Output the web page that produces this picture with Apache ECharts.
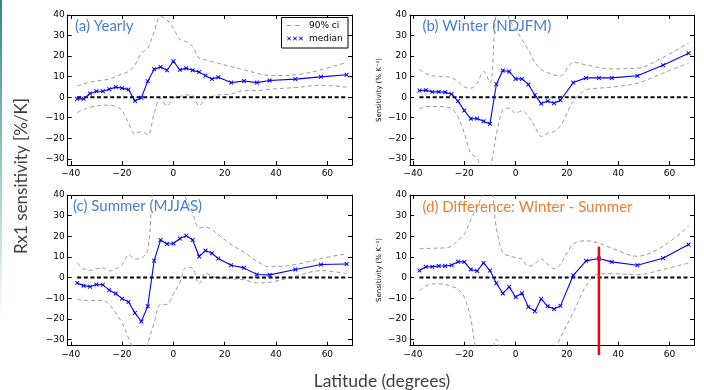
<!DOCTYPE html>
<html><head><meta charset="utf-8">
<script src="https://cdn.jsdelivr.net/npm/echarts@6/dist/echarts.min.js"></script>
<style>html,body{margin:0;padding:0;background:#fff}#c{width:704px;height:390px}</style>
</head><body><div id="c"></div>
<script>
const lat = [-37.5,-35,-32.5,-30,-27.5,-25,-22.5,-20,-17.5,-15,-12.5,-10,-7.5,-5,-2.5,0,2.5,5,7.5,10,12.5,15,17.5,22.5,27.5,32.5,37.5,47.5,57.5,67.5];

const yearlyMedian = [-0.8,-0.8,1.8,2.9,2.9,3.9,4.9,4.4,3.7,-1.8,-0.3,7.8,13.6,14.7,13.1,17.5,13.3,14.1,13.1,12.2,10.5,8.9,9.7,7.1,7.9,7.1,8.1,8.8,9.9,10.9];
const yearlyUpper  = [5.5,6.5,7.3,7.9,8.3,8.8,10,11.3,12.5,15.7,21.4,23.8,32,39.2,37.6,33.5,28.2,27,24.6,19,18.2,17.3,16.5,14.9,13.3,11.7,10.5,10.9,13.3,17];
const yearlyLower  = [-7.5,-6,-4.9,-4.3,-3.9,-3.9,-4.5,-6.5,-12.6,-17.8,-16.7,-18.3,-7.8,-0.5,-4.2,-0.5,0.3,1.1,0.8,-4.2,-0.5,0.3,1.1,1.5,3.2,3.2,3.9,4.7,5.8,4.9];

const winterMedian = [3.2,3.4,2.6,2.6,2.4,1.5,-1.9,-6.5,-10.5,-10.4,-11.7,-13,6.3,13,12.5,8.9,8.9,6.2,1.1,-3.1,-1.9,-2.9,-1.5,7.1,9.4,9.4,9.4,10.4,15.6,21.4];
const winterUpper  = [13.6,11.5,10.4,10.2,10,9.5,7.6,5,4.4,6.8,12.5,7,42,48,38,33,28,23,17,13.5,12,10.8,10.4,17,15.7,14.4,13.8,14.1,19.4,26.3];
const winterLower  = [-5.8,-4.5,-4.5,-4.5,-4.8,-5.5,-9.4,-17.5,-27.2,-29.7,-36,-34,-18,-6.2,-5.3,-7.8,-6.6,-9.4,-14.3,-19.1,-17.5,-16.7,-13.9,-2.1,3.6,4.4,4.9,6.8,11.7,16.5];

const summerMedian = [-2.6,-3.9,-4.4,-3.4,-3.5,-6.1,-7.7,-10.2,-11.8,-17.1,-21.3,-13.9,8.2,18.2,16.3,16.5,18.9,20.3,18.2,10.2,13.1,11.8,9.2,6,4.7,1.5,1.3,3.9,6.3,6.6];
const summerUpper  = [7.1,4.2,3.5,4.2,4.7,3.2,4.2,6.3,11,9,9.5,13,48,50,50,48,44,38,31.3,24,24.4,23.2,20.8,16,12.3,7.9,5.2,6.3,9.2,11.6];
const summerLower  = [-10.6,-11.1,-11.2,-11,-11.1,-13,-17.1,-21.9,-29.2,-36,-40,-31.6,-22,-13,-13,-8,-2.5,5,4.5,-3,2.3,0.6,-0.2,-0.6,-1,-2.6,-2.3,0.6,3.4,1.9];

const diffMedian = [3.4,5.2,5.3,5.6,5.6,6,7.7,7.6,3.9,3.2,7.1,3.4,-2.7,-7.7,-4.5,-9.4,-7.6,-14.2,-16.3,-10.3,-13.9,-15.2,-13.7,1.1,8.1,9.2,7.6,6,9.4,16];
const diffUpper  = [13.9,14.1,14.2,14.3,14.4,15.2,18,21,28,34,41,44,24,12,10.5,9.7,8.8,5.5,6.5,9,6.5,4.3,6.5,16.3,17.8,16.7,14.3,10.3,15.2,24.8];
const diffLower  = [-6.3,-4,-3.1,-3,-3.3,-4.3,-5.5,-9.5,-20,-38,-45,-40,-30,-38,-42,-45,-48,-50,-48,-45,-42,-36,-29,-17,-4,1.8,1.9,1.4,3.9,7.1];

const zeroLine = [[-37.5, 0], [67.5, 0]];
const redMarkLat = 32.5;
const redMarkRange = [15, -37.5];

const xTicks = [-40, -20, 0, 20, 40, 60];
const yTicks = [-30, -20, -10, 0, 10, 20, 30, 40];

const panelTitles = ['(a) Yearly', '(b) Winter (NDJFM)', '(c) Summer (MJJAS)', '(d) Difference: Winter - Summer'];
const legendNames = ['90% ci', 'median'];

const panels = [
  {med: yearlyMedian, up: yearlyUpper, lo: yearlyLower},
  {med: winterMedian, up: winterUpper, lo: winterLower},
  {med: summerMedian, up: summerUpper, lo: summerLower},
  {med: diffMedian, up: diffUpper, lo: diffLower}
];

const grids = [
  {left: 67.7, top: 15, width: 284.3, height: 150},
  {left: 410, top: 15, width: 284, height: 150},
  {left: 67.7, top: 195, width: 284.3, height: 150.7},
  {left: 410, top: 195, width: 284, height: 150.7}
];

const tickFont = {fontFamily: 'DejaVu Sans', fontSize: 9, color: '#000'};
const fmt = v => v < 0 ? '\u2212' + Math.abs(v) : String(v);
const xPath = 'path://M0,0.6L0.6,0L2,1.4L3.4,0L4,0.6L2.6,2L4,3.4L3.4,4L2,2.6L0.6,4L0,3.4L1.4,2Z';

const xAxes = [], yAxes = [], series = [];
grids.forEach((g, i) => {
  const common = {type: 'value', gridIndex: i, min: -41.2, max: 69.6,
    axisLine: {show: true, onZero: false, lineStyle: {color: '#000', width: 1}},
    splitLine: {show: false}};
  xAxes.push(Object.assign({}, common, {position: 'bottom',
    axisTick: {show: true, inside: true, length: 4, customValues: xTicks, lineStyle: {color: '#000'}},
    axisLabel: {show: true, customValues: xTicks, formatter: fmt, margin: 4, ...tickFont}}));
  xAxes.push(Object.assign({}, common, {position: 'top',
    axisTick: {show: true, inside: true, length: 4, customValues: xTicks, lineStyle: {color: '#000'}},
    axisLabel: {show: false}}));
  const ycommon = {type: 'value', gridIndex: i, min: -33, max: 40,
    axisLine: {show: true, onZero: false, lineStyle: {color: '#000', width: 1}},
    splitLine: {show: false}};
  yAxes.push(Object.assign({}, ycommon, {position: 'left',
    axisTick: {show: true, inside: true, length: 4, customValues: yTicks, lineStyle: {color: '#000'}},
    axisLabel: {show: true, customValues: yTicks, formatter: fmt, margin: 3, ...tickFont}}));
  yAxes.push(Object.assign({}, ycommon, {position: 'right',
    axisTick: {show: true, inside: true, length: 4, customValues: yTicks, lineStyle: {color: '#000'}},
    axisLabel: {show: false}}));

  const p = panels[i];
  const ax = {xAxisIndex: 2 * i, yAxisIndex: 2 * i};
  ['up', 'lo'].forEach(k => {
    series.push(Object.assign({type: 'line', name: legendNames[0], data: lat.map((x, j) => [x, p[k][j]]),
      showSymbol: false, symbol: 'none', smooth: 0.35, clip: true, silent: true, z: 2,
      itemStyle: {color: '#9a9a9a'},
      lineStyle: {color: '#9a9a9a', width: 1, type: [4, 3]}}, ax));
  });
  series.push(Object.assign({type: 'line', name: 'zero', data: zeroLine, showSymbol: false, symbol: 'none',
    silent: true, z: 3, lineStyle: {color: '#000', width: 2, type: [4, 2.6]}}, ax));
  series.push(Object.assign({type: 'line', name: legendNames[1], data: lat.map((x, j) => [x, p.med[j]]),
    symbol: xPath, symbolSize: 4.5, showSymbol: true, showAllSymbol: true, clip: true, silent: true, z: 4,
    itemStyle: {color: '#0000ff', borderWidth: 0},
    lineStyle: {color: '#0000ff', width: 1.1}}, ax));
});
series.push({type: 'line', name: 'marker', xAxisIndex: 6, yAxisIndex: 6,
  data: redMarkRange.map(v => [redMarkLat, v]), showSymbol: false, symbol: 'none', clip: false, silent: true, z: 5,
  lineStyle: {color: '#ff0000', width: 2.5}});

const titleText = (t, x, y, color) => ({type: 'text', x, y, silent: true,
  style: {text: t, fill: color, font: '15px Lato', textAlign: 'left', textVerticalAlign: 'top'}});

const ciIcon = 'path://M0,0h0.01v0.01h-0.01zM18,4h-0.01v-0.01h0.01zM1,1.5h4.5v1h-4.5zM9,1.5h4.5v1h-4.5z';
const medIcon = 'path://M0,0h0.01v0.01h-0.01zM18,4h-0.01v-0.01h0.01z' +
  'M1,0.6L1.6,0L3,1.4L4.4,0L5,0.6L3.6,2L5,3.4L4.4,4L3,2.6L1.6,4L1,3.4L2.4,2Z' +
  'M7,0.6L7.6,0L9,1.4L10.4,0L11,0.6L9.6,2L11,3.4L10.4,4L9,2.6L7.6,4L7,3.4L8.4,2Z' +
  'M13,0.6L13.6,0L15,1.4L16.4,0L17,0.6L15.6,2L17,3.4L16.4,4L15,2.6L13.6,4L13,3.4L14.4,2Z';

const option = {
  animation: false,
  backgroundColor: '#fff',
  grid: grids.map(g => Object.assign({containLabel: false}, g)),
  xAxis: xAxes,
  yAxis: yAxes,
  series: series,
  legend: {
    orient: 'vertical', left: 286, top: 20, itemWidth: 18, itemHeight: 4, itemGap: 2,
    selectedMode: false, padding: 0,
    textStyle: {fontFamily: 'DejaVu Sans', fontSize: 9, color: '#000', lineHeight: 11},
    data: [
      {name: legendNames[0], icon: ciIcon, itemStyle: {color: '#9a9a9a', borderWidth: 0}},
      {name: legendNames[1], icon: medIcon, itemStyle: {color: '#0000ff', borderWidth: 0}}
    ]
  },
  graphic: [
    {type: 'rect', shape: {x: 0, y: 0, width: 2, height: 320}, silent: true,
      style: {fill: new echarts.graphic.LinearGradient(0, 0, 0, 1, [
        {offset: 0, color: '#2e8a78'}, {offset: 0.6, color: '#a9d3cb'}, {offset: 1, color: '#ffffff'}])}},
    {type: 'rect', shape: {x: 281.5, y: 17.5, width: 66.5, height: 30.5}, z: 1, silent: true,
      style: {fill: '#fff', stroke: '#000', lineWidth: 1}},
    titleText(panelTitles[0], 75, 19, '#4a7cd2'),
    titleText(panelTitles[1], 422.5, 19, '#4a7cd2'),
    titleText(panelTitles[2], 73, 199, '#4a7cd2'),
    titleText(panelTitles[3], 422.5, 200, '#ed7d31'),
    {type: 'text', x: 22, y: 176, rotation: Math.PI / 2, silent: true,
      style: {text: 'Rx1 sensitivity [%/K]', fill: '#404040', font: '17px Lato', textAlign: 'center', textVerticalAlign: 'middle'}},
    {type: 'text', x: 382, y: 381, silent: true,
      style: {text: 'Latitude (degrees)', fill: '#404040', font: '17.5px Lato', textAlign: 'center', textVerticalAlign: 'middle'}},
    {type: 'text', x: 379, y: 90, rotation: Math.PI / 2, silent: true,
      style: {text: 'Sensitivity (% K\u207B\u00B9)', fill: '#000', font: '7px "DejaVu Sans"', textAlign: 'center', textVerticalAlign: 'middle'}},
    {type: 'text', x: 379, y: 270, rotation: Math.PI / 2, silent: true,
      style: {text: 'Sensitivity (% K\u207B\u00B9)', fill: '#000', font: '7px "DejaVu Sans"', textAlign: 'center', textVerticalAlign: 'middle'}}
  ]
};
const chart = echarts.init(document.getElementById('c'), null, {renderer: 'canvas'});
chart.setOption(option);
</script></body></html>
